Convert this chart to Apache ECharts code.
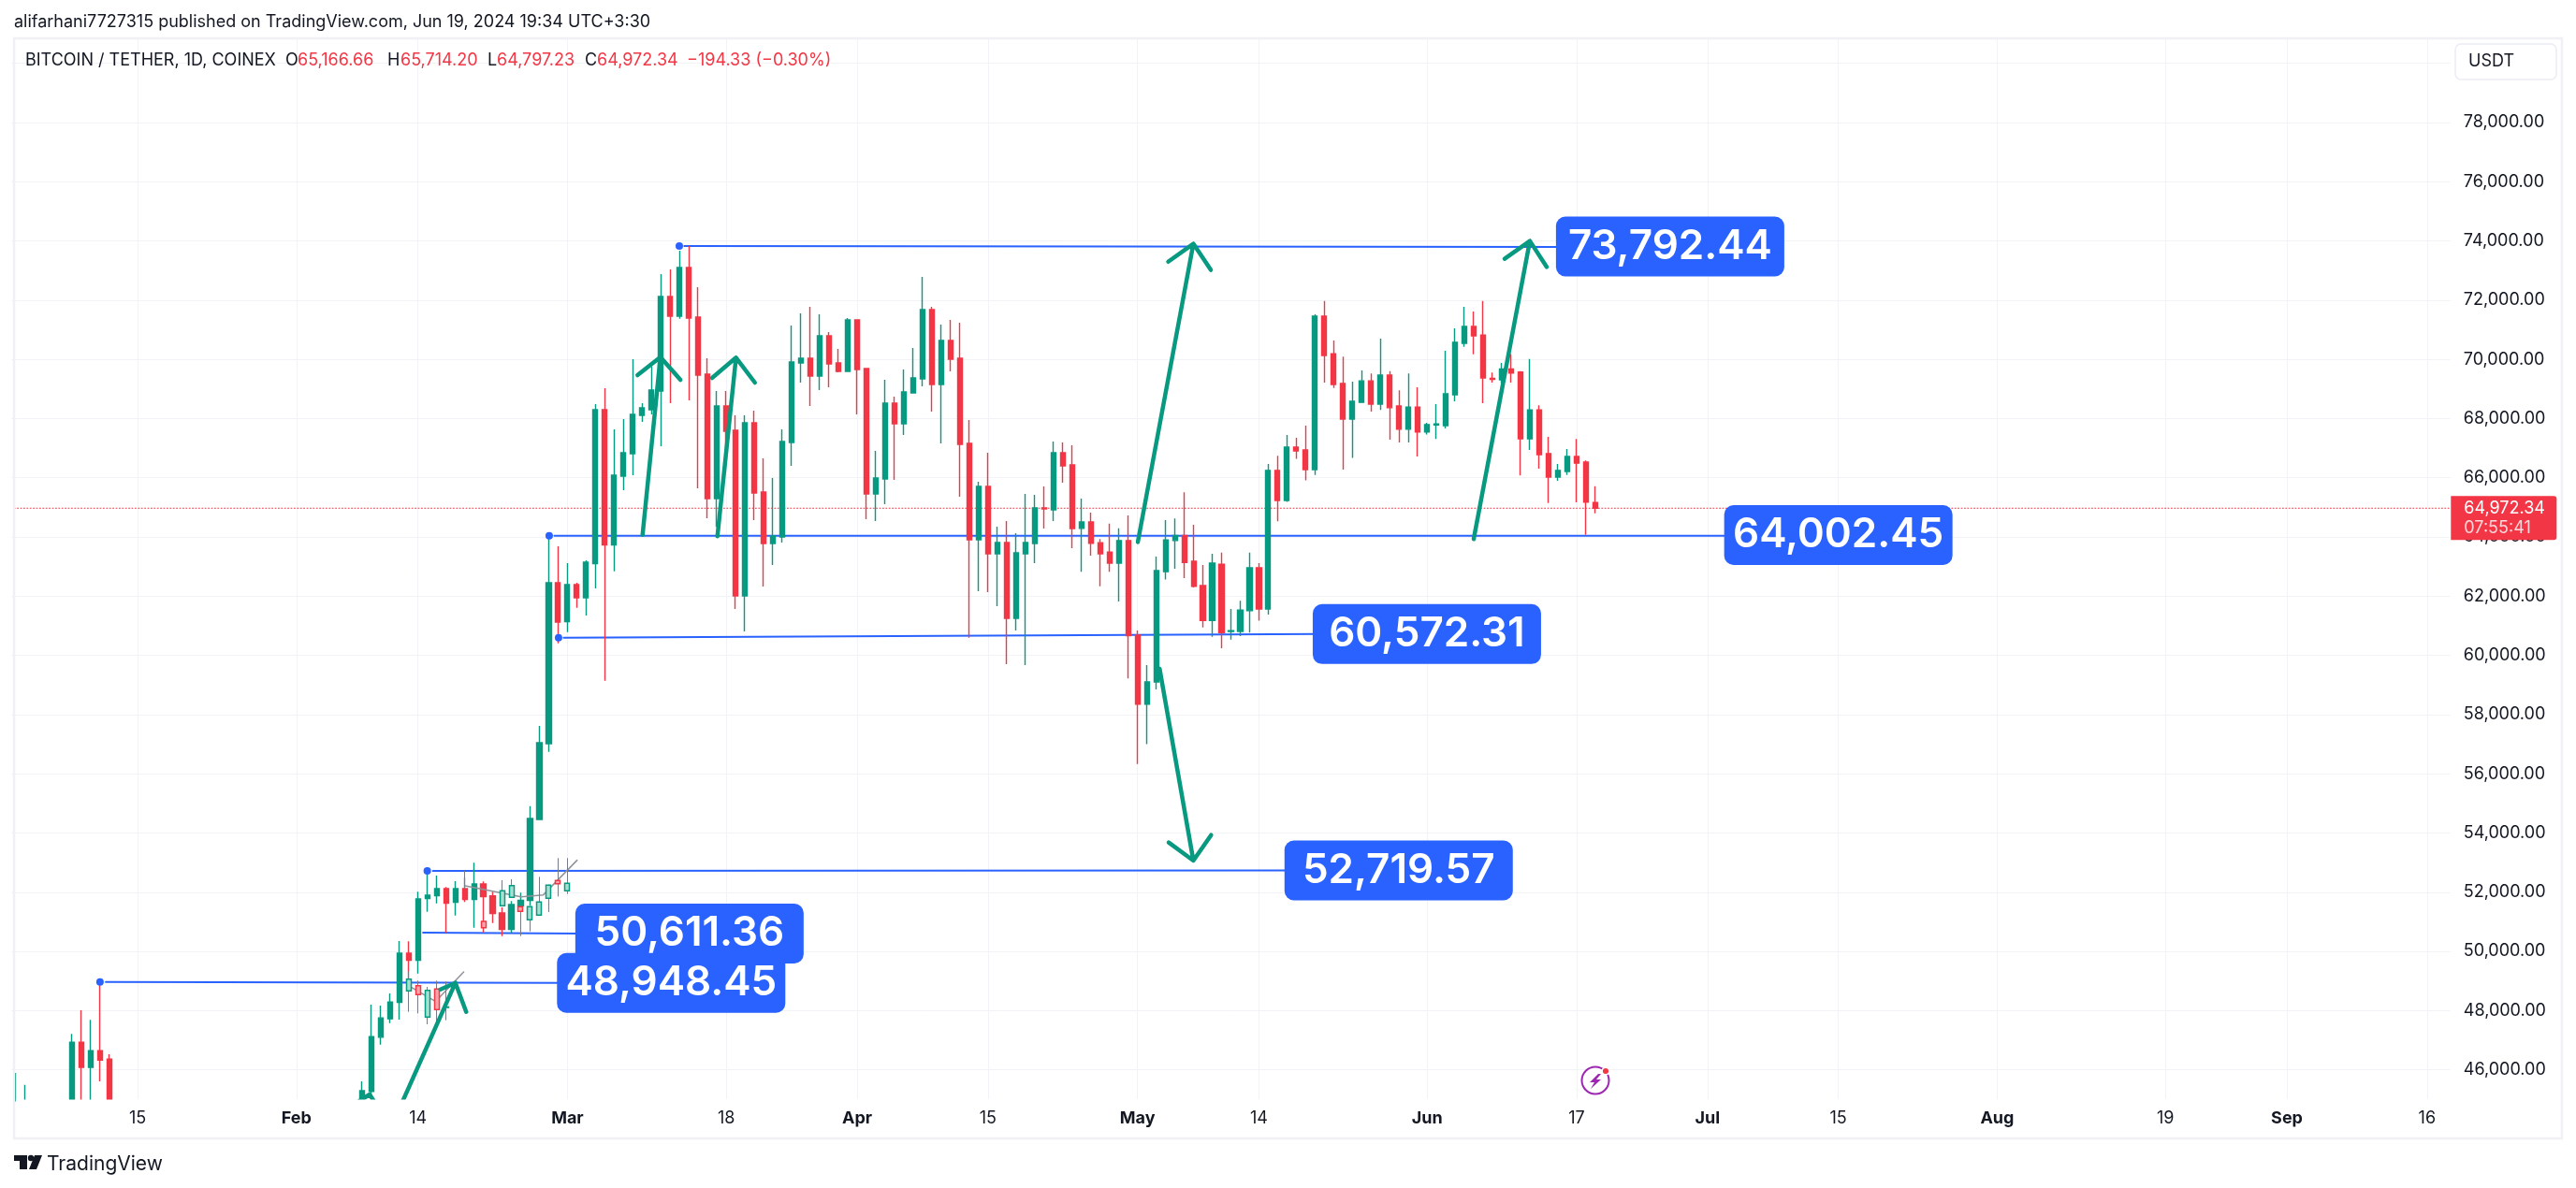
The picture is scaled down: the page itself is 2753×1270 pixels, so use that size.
<!DOCTYPE html>
<html>
<head>
<meta charset="utf-8">
<title>BTC/USDT 1D</title>
<script src="https://cdn.jsdelivr.net/npm/echarts@6/dist/echarts.min.js"></script>
<style>
  html, body { margin: 0; padding: 0; background: #ffffff; }
  #chart { width: 2753px; height: 1270px; }
</style>
</head>
<body>
<div id="chart"></div>
<script>
// candles: [open, close, low, high], null = day is below the visible range
const janCandles = [
  [44200, 44900, 44100, 45895], [44900, 42800, 40700, 45495], null, null, null, null,
  [43900, 46931, 43200, 47216], [46931, 46085, 44400, 48008], [46085, 46645, 44400, 47691],
  [46645, 46329, 45610, 48948], [46360, 42800, 41500, 46529],
  null, null, null, null, null, null, null, null, null, null, null, null, null, null, null, null, null, null, null
];
const febCandles = [
  null, null, null, null, null, null, null,
  [44300, 45293, 44200, 45610], [45272, 47120, 45050, 48199], [47100, 47755, 46847, 48166],
  [47723, 48293, 47575, 48579], [48275, 49940, 47696, 50352], [49940, 49698, 48950, 50340],
  [49698, 51772, 49255, 52015], [51783, 51899, 51340, 52720], [51878, 52120, 51625, 52562],
  [52120, 51625, 50624, 52173], [51657, 52120, 51214, 52373], [52120, 51751, 51667, 52489],
  [51751, 52278, 50803, 52994], [52278, 51846, 50645, 52362], [51878, 51277, 50961, 52015],
  [51298, 50740, 50519, 51488], [50740, 51583, 50624, 51700], [51541, 51730, 51330, 51983],
  [51720, 54490, 51540, 54910], [54458, 57049, 54458, 57618], [57018, 62453, 56745, 64033],
  [62454, 61126, 60409, 63685]
];
const marCandles = [
  [61137, 62390, 60789, 63117], [62390, 61948, 61611, 62454], [61948, 63149, 61348, 63212],
  [63096, 68299, 62264, 68489], [68299, 63728, 59146, 69026], [63728, 66087, 62843, 67636],
  [66056, 66846, 65582, 67983], [66814, 68141, 66087, 70006], [68110, 68363, 67889, 68520],
  [68299, 68963, 68141, 69763], [68931, 72123, 67067, 72881], [72123, 71459, 68520, 73039],
  [71459, 73102, 71375, 73671], [73102, 71396, 68615, 73829], [71428, 69468, 65645, 72439],
  [69500, 65297, 64634, 70037], [65297, 68426, 64339, 68931], [68426, 67573, 66603, 68931],
  [67604, 62011, 61569, 68110], [62011, 67857, 60810, 68110], [67857, 65487, 64571, 68268],
  [65519, 63781, 62327, 66656], [63781, 64033, 63054, 65993], [64002, 67225, 63812, 67636],
  [67193, 69911, 66403, 71143], [69879, 70037, 69216, 71554], [70037, 69437, 68426, 71775],
  [69437, 70796, 68963, 71522], [70796, 69848, 69058, 70922], [69879, 69595, 69563, 70353],
  [69595, 71333, 69595, 71396]
];
const aprCandles = [
  [71333, 69658, 68141, 71333], [69690, 65456, 64602, 69690], [65456, 65993, 64539, 66909],
  [65961, 68520, 65108, 69310], [68520, 67825, 65929, 68742], [67825, 68900, 67446, 69658],
  [68868, 69374, 68868, 70385], [69342, 71681, 69089, 72786], [71681, 69152, 68236, 71775],
  [69152, 70638, 67162, 71175], [70638, 70006, 69595, 71333], [70037, 67130, 65361, 71238],
  [67162, 63907, 60600, 67952], [63907, 65708, 62169, 65866], [65708, 63433, 62138, 66846],
  [63433, 63812, 61664, 64349], [63812, 61253, 59704, 64539], [61253, 63465, 60842, 64128],
  [63433, 63812, 59673, 65456], [63781, 64982, 63117, 65424], [64982, 64950, 64286, 65708],
  [64918, 66846, 64539, 67225], [66846, 66403, 65835, 67193], [66435, 64286, 63623, 67098],
  [64291, 64508, 62827, 65294], [64508, 63783, 63372, 64823], [63807, 63432, 62332, 63928],
  [63492, 63118, 62827, 64448], [63118, 63879, 61824, 64291], [63879, 60663, 59224, 64726]
];
const mayCandles = [
  [60687, 58353, 56333, 60844], [58353, 59103, 57000, 59671], [59103, 62864, 58849, 63335],
  [62827, 63904, 62561, 64569], [63879, 64049, 62924, 64629], [64049, 63142, 62609, 65512],
  [63178, 62332, 62295, 64411], [62356, 61183, 60941, 63057], [61183, 63118, 60626, 63432],
  [63082, 60772, 60240, 63468], [60810, 60832, 60530, 61570], [60808, 61534, 60650, 61848],
  [61509, 62960, 60772, 63468], [62960, 61570, 61171, 63118], [61570, 66250, 61376, 66468],
  [66250, 65234, 64533, 66746], [65234, 67036, 65186, 67447], [67036, 66903, 66637, 67350],
  [66939, 66274, 65911, 67761], [66274, 71462, 66093, 71522], [71462, 70132, 69213, 71970],
  [70192, 69152, 69031, 70640], [69188, 67979, 66274, 70095], [67979, 68584, 66673, 69249],
  [68547, 69273, 68547, 69624], [69273, 68487, 68233, 69527], [68487, 69466, 68293, 70700],
  [69466, 68366, 67290, 69599], [68426, 67640, 67193, 68958], [67640, 68390, 67193, 69527],
  [68390, 67543, 66721, 69055]
];
const junCandles = [
  [67543, 67798, 67459, 67858], [67786, 67822, 67314, 68487], [67761, 68838, 67664, 70289],
  [68801, 70579, 68584, 71051], [70543, 71111, 70422, 71776], [71111, 70797, 70168, 71619],
  [70821, 69370, 68523, 71970], [69358, 69321, 69213, 69551], [69309, 69672, 69188, 69878],
  [69672, 69539, 69213, 70180], [69575, 67314, 66080, 69599], [67314, 68293, 66939, 70011],
  [68293, 66782, 66310, 68450], [66818, 66020, 65149, 67386], [66020, 66250, 65899, 66468],
  [66214, 66721, 66093, 66975], [66721, 66492, 65173, 67314], [66528, 65173, 64073, 66588],
  [65166.66, 64972.34, 64797.23, 65714.20]
];

// pasted bars pattern: day index + [open, close, low, high]
const ghostDays = [42, 43, 44, 45, 46, 48, 50, 52, 53, 54, 55, 56, 57, 58, 59];
const ghostCandles = [
  [48665, 49065, 47960, 49330], [48844, 48539, 47907, 49013], [47780, 48686, 47538, 48802],
  [48728, 48033, 47538, 49013], [48107, 48125, 47675, 48981], [52120, 52120, 52120, 52730],
  [51014, 50803, 50803, 51014], [51541, 52046, 51541, 52404], [51825, 52225, 51825, 52436],
  [51509, 51351, 50519, 51509], [51067, 51509, 50677, 51509], [51225, 51667, 51225, 52520],
  [51793, 52236, 51330, 52257], [52394, 52289, 51857, 53152], [52046, 52299, 51941, 53152]
];
const ghostPaths = [
  [[41.9, 48860], [44.9, 48310], [47.9, 49310]],
  [[48.07, 52215], [54.05, 51845], [56.42, 51910], [60.03, 53080]]
];

// drawings: [day index, price]
const trendLines = [
  [[71.5, 73829], [165.5, 73800]],
  [[57.6, 64040], [183.5, 64040]],
  [[58.6, 60599], [139.5, 60721]],
  [[44.6, 52720], [136.5, 52735]],
  [[43.55, 50634], [60.4, 50603]],
  [[9.6, 48970], [58.4, 48937]]
];
const trendDots = [[70.97, 73829], [57.05, 64040], [58.05, 60599], [44, 52720], [8.98, 48970]];
const arrows = [
  // wing, tip, wing, base
  [[66.5, 69468], [68.95, 70078], [71.09, 69310], [67.04, 64074]],
  [[74.48, 69373], [77.04, 70059], [79.06, 69215], [75.05, 64023]],
  [[123.29, 73298], [125.98, 73905], [127.85, 73020], [120.04, 63830]],
  [[159.29, 73396], [161.99, 73999], [163.8, 73118], [155.98, 63929]],
  [[123.34, 53678], [125.98, 53068], [127.88, 53931], [122.37, 59546]],
  [[45.41, 48716], [47.01, 48938], [48.17, 47958], [40.93, 44630]],
  [[35.33, 44662], [37.83, 45168], [39.53, 44346], [37.83, 45168]]
];
const priceBoxes = [
  [177.0, 73813, '73,792.44'],
  [195.0, 64064, '64,002.45'],
  [150.97, 60721, '60,572.31'],
  [147.95, 52736, '52,719.57'],
  [72.06, 50603, '50,611.36'],
  [70.1, 48937, '48,948.45']
];

const lastPrice = 64972.34;
const yTicks = [46000, 48000, 50000, 52000, 54000, 56000, 58000, 60000, 62000, 64000, 66000, 68000, 70000, 72000, 74000, 76000, 78000, 80000];
const yLabels = yTicks.slice(0, -1);
const xTickDates = ['2024-01-15', '2024-02-01', '2024-02-14', '2024-03-01', '2024-03-18', '2024-04-01', '2024-04-15', '2024-05-01', '2024-05-14', '2024-06-01', '2024-06-17', '2024-07-01', '2024-07-15', '2024-08-01', '2024-08-19', '2024-09-01', '2024-09-16'];
const xTickTexts = ['15', 'Feb', '14', 'Mar', '18', 'Apr', '15', 'May', '14', 'Jun', '17', 'Jul', '15', 'Aug', '19', 'Sep', '16'];

const GREEN = '#089981', RED = '#F23645', BLUE = '#2962FF', INK = '#131722', GRID = '#F2F3F7', EDGE = '#F0F0F5';
const FONT = 'Inter, "Noto Sans", sans-serif';
const Y_MIN = 45010, Y_MAX = 80812;

// one category per calendar day, Jan 2 to Sep 18
const days = [];
for (let i = 0; i < 261; i++) {
  days.push(new Date(Date.UTC(2024, 0, 2 + i)).toISOString().slice(0, 10));
}
const blank = () => ['-', '-', '-', '-'];
// candlestick clip only drops whole candles, so stop the cut off ones just under the pane
const candleData = [].concat(janCandles, febCandles, marCandles, aprCandles, mayCandles, junCandles)
  .map(c => (c ? c.map(v => Math.max(v, Y_MIN - 60)) : blank()));

const ghostWick = [], ghostBody = [];
for (let i = 0; i <= 59; i++) { ghostWick.push(blank()); ghostBody.push(blank()); }
ghostDays.forEach((day, i) => {
  const g = ghostCandles[i];
  ghostWick[day] = [g[2], g[3], g[2], g[3]];
  if (g[0] !== g[1]) {
    ghostBody[day] = [g[0], g[1], Math.min(g[0], g[1]), Math.max(g[0], g[1])];
  }
});

const series = [];

// everything that is not a candle sits on the hidden value x axis
function overlayLine(name, points, color, width, z, type) {
  series.push({
    name: name, type: 'line', xAxisIndex: 1, yAxisIndex: 0, data: points, z: z,
    symbol: 'none', silent: true, animation: false,
    lineStyle: { color: color, width: width, type: type || 'solid', cap: 'round', join: 'round' }
  });
}

overlayLine('last', [[-0.2, lastPrice], [260.5, lastPrice]], RED, 1, 1, [1, 2.4]);
trendLines.forEach((l, i) => overlayLine('trend' + i, l, BLUE, 2, 1));
series.push({
  name: 'dots', type: 'scatter', xAxisIndex: 1, yAxisIndex: 0, data: trendDots, z: 3,
  symbolSize: 8, itemStyle: { color: BLUE, opacity: 1 }, silent: true
});

series.push({
  name: 'BTCUSDT', type: 'candlestick', xAxisIndex: 0, yAxisIndex: 0, data: candleData, z: 2,
  barWidth: 5.6,
  itemStyle: { color: GREEN, color0: RED, borderColor: GREEN, borderColor0: RED, borderWidth: 1.4 }
});
series.push({
  name: 'ghostWick', type: 'candlestick', xAxisIndex: 0, yAxisIndex: 0, data: ghostWick, z: 3,
  barWidth: 0.5, silent: true,
  itemStyle: { color: '#787B86', color0: '#787B86', borderColor: '#787B86', borderColor0: '#787B86', borderWidth: 1 }
});
ghostPaths.forEach((p, i) => overlayLine('ghostPath' + i, p, '#909399', 1.5, 3));
series.push({
  name: 'ghostBody', type: 'candlestick', xAxisIndex: 0, yAxisIndex: 0, data: ghostBody, z: 4,
  barWidth: 5.5, silent: true,
  itemStyle: { color: '#A8E0D2', color0: '#FBA4AB', borderColor: GREEN, borderColor0: RED, borderWidth: 1.5 }
});

arrows.forEach((a, i) => {
  // wing -> tip -> wing -> back to tip -> base
  overlayLine('arrow' + i, [a[0], a[1], a[2], a[1], a[3]], GREEN, 4.5, 5);
});

series.push({
  name: 'boxes', type: 'scatter', xAxisIndex: 1, yAxisIndex: 0, z: 6, clip: false,
  symbolSize: 1, itemStyle: { color: 'transparent', opacity: 1 }, silent: true,
  data: priceBoxes.map(b => ({ value: [b[0], b[1]], text: b[2] })),
  label: {
    show: true, position: 'inside',
    formatter: p => p.data.text,
    width: 244, height: 64, lineHeight: 64, align: 'center', verticalAlign: 'middle',
    backgroundColor: BLUE, borderRadius: 10,
    color: '#ffffff', fontFamily: FONT, fontWeight: 600, fontSize: 44
  }
});
series.push({
  name: 'tag', type: 'scatter', xAxisIndex: 1, yAxisIndex: 0, z: 6, clip: false,
  symbolSize: 1, itemStyle: { color: 'transparent', opacity: 1 }, silent: true,
  data: [[260.5, lastPrice]],
  label: {
    show: true, position: 'right', distance: 0, offset: [0, 10.5],
    formatter: '{a|64,972.34}\n{b|07:55:41}',
    width: 99, align: 'left', padding: [3, 0, 2, 14],
    backgroundColor: RED, borderRadius: [0, 3, 3, 0],
    rich: {
      a: { color: '#ffffff', fontFamily: FONT, fontSize: 18, lineHeight: 21 },
      b: { color: '#ffd6da', fontFamily: FONT, fontSize: 18, lineHeight: 21 }
    }
  }
});

function txt(x, y, text, color, size, weight) {
  return {
    type: 'text', x: x, y: y, z: 100, silent: true,
    style: { text: text, fill: color || INK, fontFamily: FONT, fontSize: size || 18, fontWeight: weight || 400, verticalAlign: 'middle' }
  };
}

const myChart = echarts.init(document.getElementById('chart'), null, { renderer: 'canvas' });
myChart.setOption({
  animation: false,
  backgroundColor: '#ffffff',
  grid: { left: 12.2, top: 42, width: 2606.6, height: 1133, containLabel: false },
  xAxis: [
    {
      type: 'category', data: days, position: 'bottom',
      axisLine: { show: false },
      axisTick: { show: false, alignWithLabel: true },
      splitLine: {
        show: true, alignWithLabel: true,
        interval: (i, v) => xTickDates.indexOf(v) >= 0,
        lineStyle: { color: GRID, width: 1 }
      },
      axisLabel: {
        margin: 12,
        interval: (i, v) => xTickDates.indexOf(v) >= 0,
        formatter: v => {
          const t = xTickTexts[xTickDates.indexOf(v)];
          return /^\d/.test(t) ? '{n|' + t + '}' : '{m|' + t + '}';
        },
        rich: {
          n: { color: INK, fontFamily: FONT, fontSize: 18 },
          m: { color: INK, fontFamily: FONT, fontSize: 18, fontWeight: 700 }
        }
      }
    },
    { type: 'value', min: -0.5, max: 260.5, show: false, splitLine: { show: false } }
  ],
  yAxis: {
    type: 'value', position: 'right', min: Y_MIN, max: Y_MAX,
    axisLine: { show: false },
    axisTick: { show: false, customValues: yTicks },
    splitLine: { show: true, lineStyle: { color: GRID, width: 1 } },
    axisLabel: {
      customValues: yLabels, margin: 14, color: INK, fontFamily: FONT, fontSize: 18,
      formatter: v => v.toLocaleString('en-US', { minimumFractionDigits: 2 })
    }
  },
  series: series,
  graphic: [
    // covers the cut off candle ends under the pane
    { type: 'rect', z: 80, silent: true, shape: { x: 17, y: 1175.5, width: 2600, height: 4 }, style: { fill: '#ffffff' } },

    // outer frame
    { type: 'rect', z: 90, silent: true, shape: { x: 15, y: 41, width: 2723, height: 1176 }, style: { fill: 'none', stroke: EDGE, lineWidth: 2.5 } },

    // header
    txt(15, 24, 'alifarhani7727315 published on TradingView.com, Jun 19, 2024 19:34 UTC+3:30'),
    txt(27, 65, 'BITCOIN / TETHER, 1D, COINEX'),
    txt(305, 65, 'O'), txt(318, 65, '65,166.66', RED),
    txt(414, 65, 'H'), txt(428, 65, '65,714.20', RED),
    txt(521, 65, 'L'), txt(531, 65, '64,797.23', RED),
    txt(625, 65, 'C'), txt(638, 65, '64,972.34', RED),
    txt(734, 65, '\u2212194.33 (\u22120.30%)', RED),

    // currency button
    { type: 'rect', z: 95, silent: true, shape: { x: 2624, y: 47, width: 108, height: 38, r: 6 }, style: { fill: '#ffffff', stroke: '#ECEDF3', lineWidth: 1.5 } },
    txt(2638, 66, 'USDT'),

    // logo
    { type: 'polygon', z: 100, silent: true, shape: { points: [[15, 1235], [29, 1235], [29, 1250], [21, 1250], [21, 1241], [15, 1241]] }, style: { fill: INK } },
    { type: 'circle', z: 100, silent: true, shape: { cx: 33, cy: 1238, r: 3.2 }, style: { fill: INK } },
    { type: 'polygon', z: 100, silent: true, shape: { points: [[37, 1235], [45, 1235], [39, 1250], [31, 1250]] }, style: { fill: INK } },
    txt(50, 1245, 'TradingView', INK, 21),

    // lightning icon
    { type: 'circle', z: 100, silent: true, shape: { cx: 1705, cy: 1155, r: 14.5 }, style: { fill: '#ffffff', stroke: '#9C27B0', lineWidth: 2 } },
    { type: 'polygon', z: 100, silent: true, shape: { points: [[1708, 1148], [1699, 1157], [1704, 1157], [1700, 1164], [1711, 1154], [1706, 1154], [1711, 1148]] }, style: { fill: '#9C27B0' } },
    { type: 'circle', z: 100, silent: true, shape: { cx: 1716, cy: 1145, r: 3.8 }, style: { fill: RED, stroke: '#ffffff', lineWidth: 1.5 } }
  ]
});
</script>
</body>
</html>
